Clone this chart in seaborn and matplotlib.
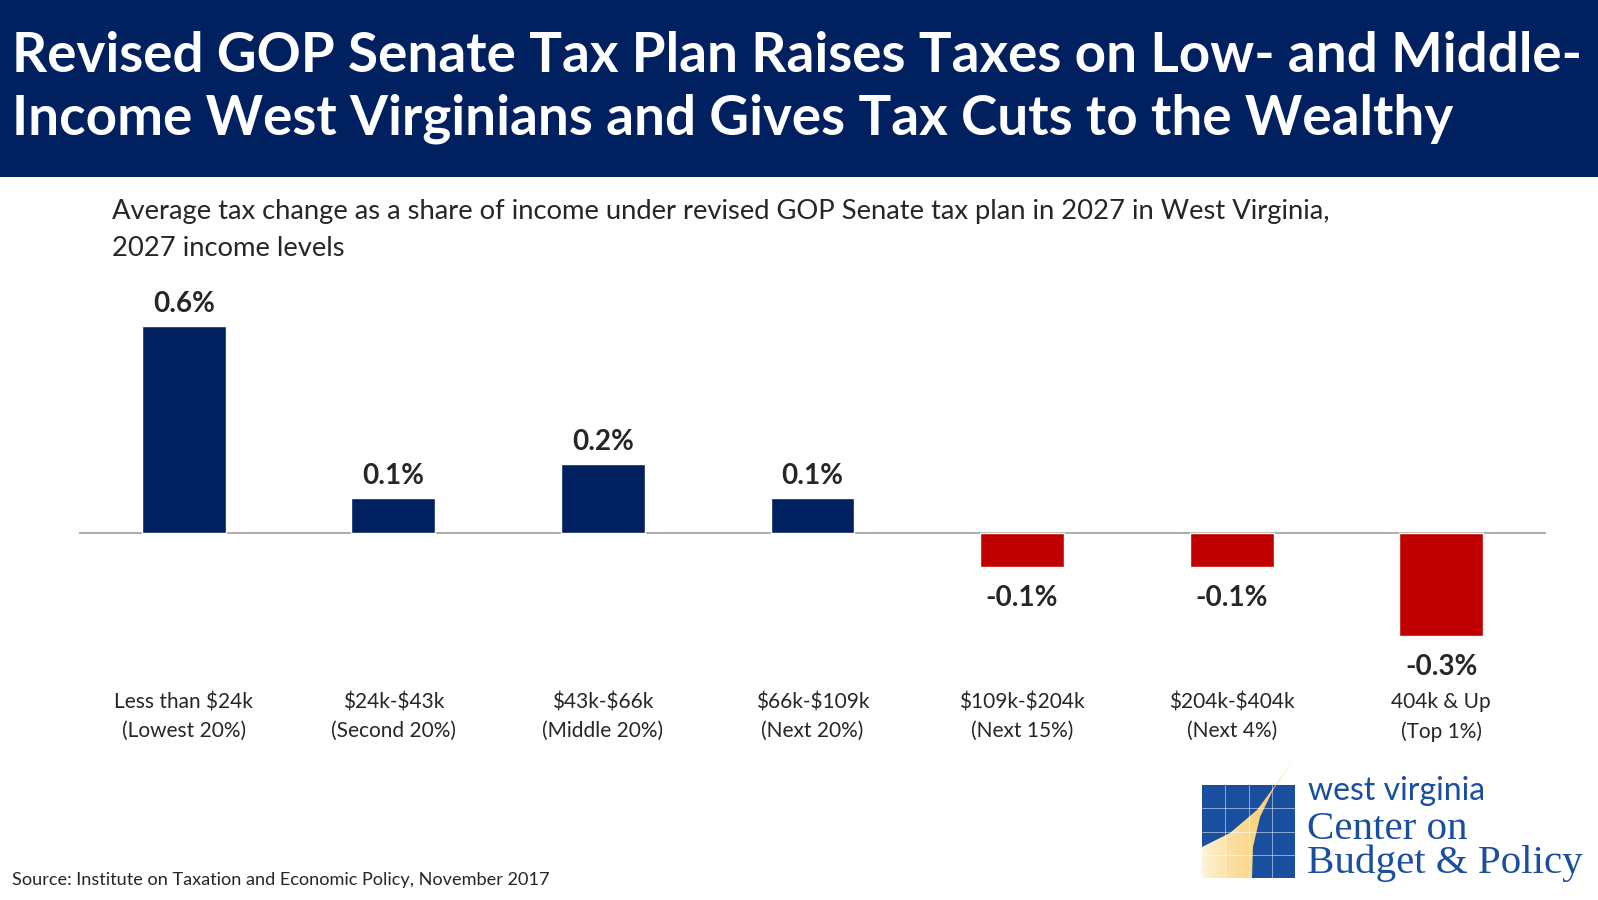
"""
Revised GOP Senate tax plan: average tax change as a share of income,
West Virginia, 2027.
"""

import matplotlib
matplotlib.use('Agg')
import matplotlib.pyplot as plt
from matplotlib.patches import Rectangle, Polygon
from matplotlib.colors import LinearSegmentedColormap
import numpy as np
import seaborn as sns

# data
categories = ['Less than $24k\n(Lowest 20%)', '$24k-$43k\n(Second 20%)',
              '$43k-$66k\n(Middle 20%)', '$66k-$109k\n(Next 20%)',
              '$109k-$204k\n(Next 15%)', '$204k-$404k\n(Next 4%)',
              '404k & Up\n(Top 1%)']
tax_change = [0.6, 0.1, 0.2, 0.1, -0.1, -0.1, -0.3]
bar_labels = ['0.6%', '0.1%', '0.2%', '0.1%', '-0.1%', '-0.1%', '-0.3%']

NAVY = '#002060'
RED = '#C00000'
LOGO_BLUE = '#1A4F9F'

sns.set_style('white')
plt.rcParams['font.family'] = ['Lato', 'DejaVu Sans']
plt.rcParams['text.parse_math'] = False   # keep the $ signs literal

W, H = 1598, 900
fig = plt.figure(figsize=(W / 100, H / 100), dpi=100)

# overlay in pixel coords for header / logo / source
over = fig.add_axes([0, 0, 1, 1], zorder=0)
over.axis('off')

over.add_patch(Rectangle((0, 0), W, 177, color=NAVY, lw=0))
over.text(12, 56, 'Revised GOP Senate Tax Plan Raises Taxes on Low- and Middle-',
          color='white', fontsize=39.4, fontweight='bold', va='center', ha='left')
over.text(12, 119, 'Income West Virginians and Gives Tax Cuts to the Wealthy',
          color='white', fontsize=39.4, fontweight='bold', va='center', ha='left')

over.text(112, 212, 'Average tax change as a share of income under revised GOP Senate '
          'tax plan in 2027 in West Virginia,', fontsize=19.7, va='center', ha='left')
over.text(112, 248, '2027 income levels', fontsize=19.7, va='center', ha='left')

over.text(12, 880, 'Source: Institute on Taxation and Economic Policy, November 2017',
          fontsize=13.1, va='center', ha='left')

# logo: blue grid square with a yellow swoosh
x0, y0, side = 1202, 785, 93
over.add_patch(Rectangle((x0, y0), side, side, color=LOGO_BLUE, lw=0))
swoosh = [(1202, 847), (1230, 833), (1257, 810), (1277, 783), (1292, 762),
          (1273, 790), (1260, 817), (1253, 847), (1252, 878), (1202, 878)]
grad = np.linspace(0, 1, 100).reshape(1, -1) ** 0.7
img = over.imshow(grad, extent=(1202, 1292, 878, 762), aspect='auto', zorder=2,
                  cmap=LinearSegmentedColormap.from_list('sw', ['#FFF6E0', '#F7C65C']))
clip = Polygon(swoosh, closed=True, transform=over.transData, facecolor='none', edgecolor='none')
over.add_patch(clip)
img.set_clip_path(clip)
for k in range(1, 4):
    over.plot([x0 + k * side / 4] * 2, [y0, y0 + side], color='white', lw=0.6, alpha=0.6, zorder=3)
    over.plot([x0, x0 + side], [y0 + k * side / 4] * 2, color='white', lw=0.6, alpha=0.6, zorder=3)
over.set_xlim(0, W)
over.set_ylim(H, 0)
over.text(1308, 800, 'west virginia', color=LOGO_BLUE, fontsize=23, va='baseline', ha='left')
over.text(1307, 873, 'Center on\nBudget & Policy', color=LOGO_BLUE, fontsize=29.5,
          va='baseline', ha='left', linespacing=0.88, family='Liberation Serif')

# bar chart axes: baseline at y=533px, 0.1 = 34.5px
px_per_unit = 345
y_top, y_bot = 0.75, -0.45
top_px = 533 - y_top * px_per_unit
bot_px = 533 - y_bot * px_per_unit
ax = fig.add_axes([79 / W, 1 - bot_px / H, (1546 - 79) / W, (bot_px - top_px) / H], zorder=1)
ax.patch.set_alpha(0)

sns.barplot(x=categories, y=tax_change, hue=categories,
            palette=[NAVY if v > 0 else RED for v in tax_change],
            width=0.40, legend=False, saturation=1, ax=ax)
ax.set_xlim(-0.5, len(categories) - 0.5)
ax.set_ylim(y_bot, y_top)
ax.axhline(0, color='#A6A6A6', lw=1.3, zorder=0)
sns.despine(ax=ax, left=True, bottom=True)
ax.set_yticks([])
ax.tick_params(axis='x', length=0, pad=3, labelsize=15)
for lab in ax.get_xticklabels():
    lab.set_linespacing(1.52)

for i, (v, txt) in enumerate(zip(tax_change, bar_labels)):
    ax.annotate(txt, (i, v), xytext=(0, 16 if v > 0 else -22), textcoords='offset points',
                ha='center', va='center', fontsize=20, fontweight='bold')

fig.savefig('out.png', dpi=100)
